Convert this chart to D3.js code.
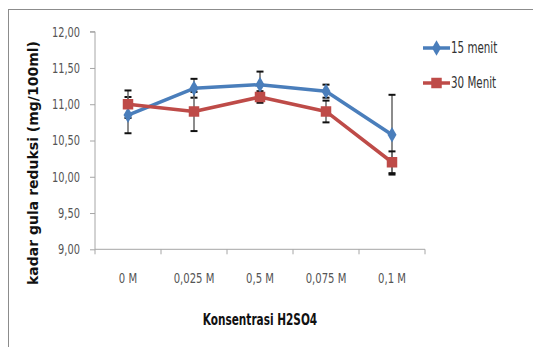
<!DOCTYPE html>
<html><head><meta charset="utf-8">
<script src="https://cdn.jsdelivr.net/npm/d3@7"></script>
<style>html,body{margin:0;padding:0;background:#fff;}svg{display:block;}</style>
</head><body>
<script>
const categories = ["0 M", "0,025 M", "0,5 M", "0,075 M", "0,1 M"];
const seriesNames = ["15 menit", "30 Menit"];
const values15 = [10.85, 11.22, 11.27, 11.18, 10.58];
const values30 = [11.00, 10.90, 11.10, 10.90, 10.20];
const err15 = [0.25, 0.13, 0.18, 0.09, 0.55];
const err30 = [0.19, 0.27, 0.08, 0.15, 0.15];
const yTicks = [9, 9.5, 10, 10.5, 11, 11.5, 12];
const colors = ["#4A7EBB", "#BE4B48"];

const W = 533, H = 347;
const svg = d3.select("body").append("svg").attr("width", W).attr("height", H);
svg.append("rect").attr("x", 8.5).attr("y", 9.5).attr("width", 540).attr("height", 400)
  .attr("fill", "none").attr("stroke", "#8c8c8c").attr("stroke-width", 1);

const x0 = 95, x1 = 425, yTop = 31.7, yBot = 249.3;
const x = d3.scaleBand().domain(categories).range([x0, x1]);
const y = d3.scaleLinear().domain([9, 12]).range([yBot, yTop]);
const fmt = v => d3.format(".2f")(v).replace(".", ",");
const font = "'DejaVu Sans Condensed', sans-serif";

function squeeze(sel, f) {
  sel.each(function () {
    const w = this.getComputedTextLength();
    d3.select(this).attr("textLength", w * f).attr("lengthAdjust", "spacingAndGlyphs");
  });
}

// y axis
const ya = svg.append("g").attr("transform", `translate(${x0},0)`)
  .call(d3.axisLeft(y).tickValues(yTicks).tickFormat(fmt).tickSize(5).tickPadding(10));
ya.select(".domain").attr("stroke", "#a6a6a6").attr("d", `M-5,${yTop}H0V${yBot}`);
ya.selectAll(".tick line").attr("stroke", "#a6a6a6");
ya.selectAll(".tick text").attr("fill", "#555").style("font-family", font).style("font-size", "14px");
squeeze(ya.selectAll(".tick text"), 0.78);

// x axis
const xa = svg.append("g").attr("transform", `translate(0,${yBot})`)
  .call(d3.axisBottom(x).tickSize(0).tickPadding(24));
xa.select(".domain").attr("stroke", "#a6a6a6").attr("d", `M${x0},0H${x1}`);
xa.selectAll(".tick text").attr("fill", "#555").style("font-family", font).style("font-size", "14px");
squeeze(xa.selectAll(".tick text"), 0.8);
const bounds = d3.range(categories.length + 1).map(i => x0 + i * x.step());
xa.selectAll(".xt").data(bounds).enter().append("line").attr("class", "xt")
  .attr("x1", d => d).attr("x2", d => d).attr("y1", 0).attr("y2", 5).attr("stroke", "#a6a6a6");

const cx = c => x(c) + x.bandwidth() / 2;
const series = [
  { name: seriesNames[0], vals: values15, errs: err15, color: colors[0], shape: d3.symbolDiamond, size: 70 },
  { name: seriesNames[1], vals: values30, errs: err30, color: colors[1], shape: d3.symbolSquare, size: 110 }
];

// error bars
series.forEach(s => {
  const g = svg.append("g");
  categories.forEach((c, i) => {
    const xx = cx(c), lo = y(s.vals[i] - s.errs[i]), hi = y(s.vals[i] + s.errs[i]);
    g.append("line").attr("x1", xx).attr("x2", xx).attr("y1", hi).attr("y2", lo).attr("stroke", "#666").attr("stroke-width", 1.5);
    [hi, lo].forEach(yy => g.append("line").attr("x1", xx - 3.5).attr("x2", xx + 3.5).attr("y1", yy).attr("y2", yy)
      .attr("stroke", "#111").attr("stroke-width", 2));
  });
});

// lines + markers
series.forEach(s => {
  const line = d3.line().x((d, i) => cx(categories[i])).y(d => y(d));
  svg.append("path").datum(s.vals).attr("d", line).attr("fill", "none")
    .attr("stroke", s.color).attr("stroke-width", 3.5).attr("stroke-linejoin", "round");
  svg.selectAll(null).data(s.vals).enter().append("path")
    .attr("d", d3.symbol().type(s.shape).size(s.size))
    .attr("transform", (d, i) => `translate(${cx(categories[i])},${y(d)})`)
    .attr("fill", s.color);
});

// axis titles
svg.append("text").attr("transform", `translate(38,163) rotate(-90)`).attr("text-anchor", "middle")
  .style("font-family", "'DejaVu Sans', sans-serif").style("font-weight", "bold").style("font-size", "14px")
  .attr("fill", "#111").text("kadar gula reduksi (mg/100ml)");
const xt = svg.append("text").attr("x", 260).attr("y", 325).attr("text-anchor", "middle")
  .style("font-family", font).style("font-weight", "bold").style("font-size", "15px")
  .attr("fill", "#111").text("Konsentrasi H2SO4");
squeeze(xt, 0.78);

// legend
const legY = [48, 83];
series.forEach((s, i) => {
  const g = svg.append("g");
  g.append("line").attr("x1", 423).attr("x2", 450).attr("y1", legY[i]).attr("y2", legY[i])
    .attr("stroke", s.color).attr("stroke-width", 3.5);
  g.append("path").attr("d", d3.symbol().type(s.shape).size(s.size)).attr("transform", `translate(436.5,${legY[i]})`).attr("fill", s.color);
  const t = g.append("text").attr("x", 451).attr("y", legY[i]).attr("dy", "0.35em")
    .style("font-family", font).style("font-size", "15.5px").attr("fill", "#333").text(s.name);
  squeeze(t, 0.74);
});
</script>
</body></html>
